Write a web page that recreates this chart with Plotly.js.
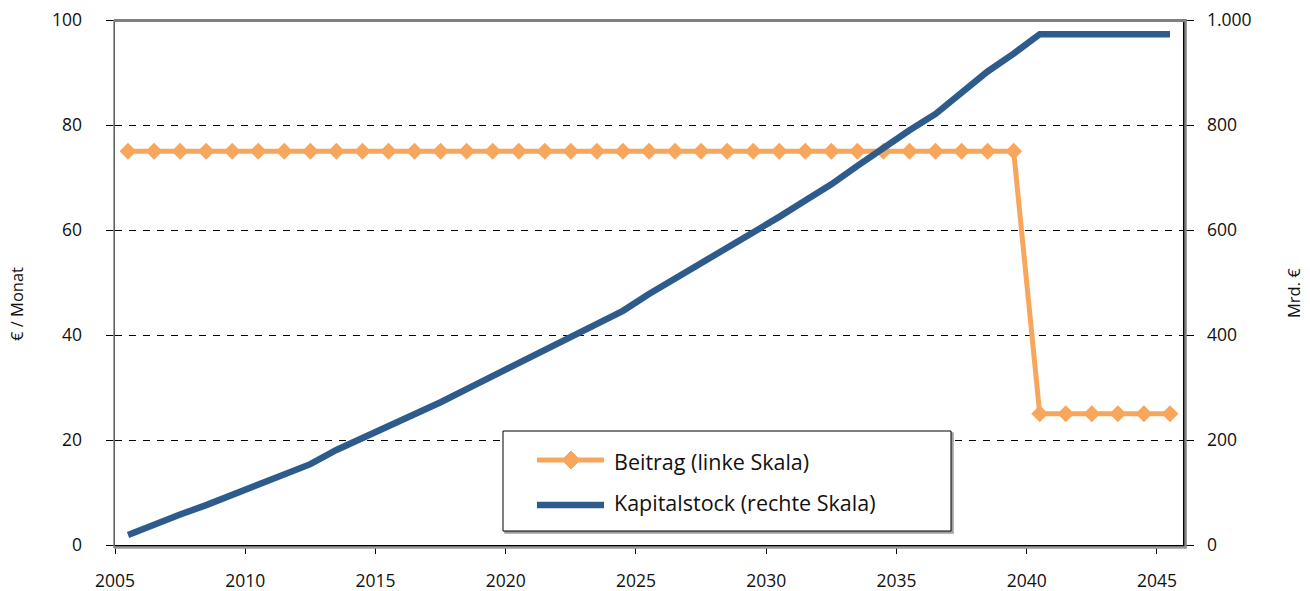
<!DOCTYPE html>
<html>
<head>
<meta charset="utf-8">
<script src="https://cdn.plot.ly/plotly-3.0.1.min.js"></script>
<style>html,body{margin:0;padding:0;background:#fff;}#chart{width:1310px;height:591px;}</style>
</head>
<body>
<div id="chart"></div>
<script>
// ---- data ----
const years = [2005,2006,2007,2008,2009,2010,2011,2012,2013,2014,2015,2016,2017,2018,2019,2020,2021,2022,2023,2024,2025,2026,2027,2028,2029,2030,2031,2032,2033,2034,2035,2036,2037,2038,2039,2040,2041,2042,2043,2044,2045];
const beitrag = [75,75,75,75,75,75,75,75,75,75,75,75,75,75,75,75,75,75,75,75,75,75,75,75,75,75,75,75,75,75,75,75,75,75,75,25,25,25,25,25,25];
const kapitalstock = [19,40,58,76,95,114,135,154,181,203,226,247,272,297,322,347,374,398,422,446,478,507,536,565,594,625,656,687,722,757,790,821,861,902,936,973,973,973,973,973,973];
const xTickYears = [2005,2010,2015,2020,2025,2030,2035,2040,2045];
const xTickLabels = ['2005','2010','2015','2020','2025','2030','2035','2040','2045'];
const leftTicks = [0,20,40,60,80,100];
const rightTicks = [0,200,400,600,800,1000];
const rightTickLabels = ['0','200','400','600','800','1.000'];
const seriesNames = ['Beitrag (linke Skala)','Kapitalstock (rechte Skala)'];
const leftTitle = '€ / Monat';
const rightTitle = 'Mrd. €';

// ---- style ----
const ORANGE = '#F8A65C';
const BLUE = '#2D5C8C';
const FONT = 'Open Sans, Noto Sans, sans-serif';
const L = 115, R = 1183, T = 20, B = 545;
const PW = R - L, PH = B - T;
const px = v => (v - L) / PW;
const py = v => (B - v) / PH;

const traces = [
  {x: years, y: beitrag, type: 'scatter', mode: 'lines+markers', name: seriesNames[0],
   line: {color: ORANGE, width: 5}, marker: {symbol: 'diamond', size: 13, color: ORANGE},
   yaxis: 'y', showlegend: false, cliponaxis: false},
  {x: years, y: kapitalstock, type: 'scatter', mode: 'lines', name: seriesNames[1],
   line: {color: BLUE, width: 6.5}, yaxis: 'y2', showlegend: false}
];

function diamond(cx, cy, hw, hh) {
  return `M${px(cx-hw)},${py(cy)} L${px(cx)},${py(cy-hh)} L${px(cx+hw)},${py(cy)} L${px(cx)},${py(cy+hh)} Z`;
}

const shapes = [
  // plot frame
  {type:'line', xref:'paper', yref:'paper', x0:px(L-1), x1:px(R+2), y0:py(T+0.5), y1:py(T+0.5), line:{color:'#808080', width:3}, layer:'above'},
  {type:'line', xref:'paper', yref:'paper', x0:px(R+2.5), x1:px(R+2.5), y0:py(T-1), y1:py(B+3.5), line:{color:'#808080', width:2.5}, layer:'above'},
  {type:'line', xref:'paper', yref:'paper', x0:px(L-1), x1:px(R+3), y0:py(B+2.5), y1:py(B+2.5), line:{color:'#9a9a9a', width:2.5}, layer:'above'},
  {type:'line', xref:'paper', yref:'paper', x0:px(L-1), x1:px(L-1), y0:py(T), y1:py(B+3), line:{color:'#808080', width:1.5}, layer:'above'},
  // legend box
  {type:'rect', xref:'paper', yref:'paper', x0:px(505), x1:px(953), y0:py(533), y1:py(433), line:{color:'#a0a0a0', width:1.5}, fillcolor:'#a0a0a0', layer:'above'},
  {type:'rect', xref:'paper', yref:'paper', x0:px(503), x1:px(951), y0:py(531), y1:py(431), line:{color:'#000', width:1}, fillcolor:'#fff', layer:'above'},
  {type:'line', xref:'paper', yref:'paper', x0:px(537), x1:px(604), y0:py(460), y1:py(460), line:{color:ORANGE, width:5}, layer:'above'},
  {type:'path', xref:'paper', yref:'paper', path: diamond(571, 460, 9, 9), fillcolor:ORANGE, line:{color:ORANGE, width:1}, layer:'above'},
  {type:'line', xref:'paper', yref:'paper', x0:px(537), x1:px(604), y0:py(505), y1:py(505), line:{color:BLUE, width:6.5}, layer:'above'}
];

const annotations = [
  {xref:'paper', yref:'paper', x:px(612), y:py(461), xanchor:'left', yanchor:'middle', text:seriesNames[0], showarrow:false, font:{family:FONT, size:21.5, color:'#111'}},
  {xref:'paper', yref:'paper', x:px(612), y:py(502), xanchor:'left', yanchor:'middle', text:seriesNames[1], showarrow:false, font:{family:FONT, size:21.5, color:'#111'}},
  {xref:'paper', yref:'paper', x:px(16), y:py(304), xanchor:'center', yanchor:'middle', textangle:-90, text:leftTitle, showarrow:false, font:{family:FONT, size:16.5, color:'#111'}},
  {xref:'paper', yref:'paper', x:px(1293), y:py(293), xanchor:'center', yanchor:'middle', textangle:-90, text:rightTitle, showarrow:false, font:{family:FONT, size:16.5, color:'#111'}}
];

const layout = {
  width: 1310, height: 591,
  margin: {l: L, r: 1310 - R, t: T, b: 591 - B, pad: 0},
  paper_bgcolor: '#fff', plot_bgcolor: '#fff',
  font: {family: FONT, size: 17, color: '#111'},
  showlegend: false,
  xaxis: {
    range: [2004.5, 2045.5], tickmode: 'array',
    tickvals: xTickYears.map(v => v - 0.5), ticktext: xTickLabels,
    showgrid: false, zeroline: false, showline: true, linecolor: '#000', linewidth: 1.5,
    ticks: 'outside', ticklen: 7, tickwidth: 1, tickcolor: '#000',
    ticklabelstandoff: 12, tickfont: {family: FONT, size: 17.5, color: '#111'}
  },
  yaxis: {
    range: [0, 100], tickmode: 'array', tickvals: leftTicks,
    showgrid: true, gridcolor: '#000', gridwidth: 1, griddash: '7px,7px',
    zeroline: false, showline: true, linecolor: '#000', linewidth: 1.5,
    ticks: 'outside', ticklen: 8, tickwidth: 1, tickcolor: '#000',
    ticklabelstandoff: 20, tickfont: {family: FONT, size: 17.5, color: '#111'}
  },
  yaxis2: {
    range: [0, 1000], overlaying: 'y', side: 'right', tickmode: 'array',
    tickvals: rightTicks, ticktext: rightTickLabels,
    showgrid: false, zeroline: false, showline: true, linecolor: '#000', linewidth: 1.5,
    ticks: 'outside', ticklen: 9, tickwidth: 1, tickcolor: '#000',
    ticklabelstandoff: 10, tickfont: {family: FONT, size: 17.5, color: '#111'}
  },
  shapes: shapes,
  annotations: annotations
};

Plotly.newPlot('chart', traces, layout, {displayModeBar: false, staticPlot: true});
</script>
</body>
</html>
